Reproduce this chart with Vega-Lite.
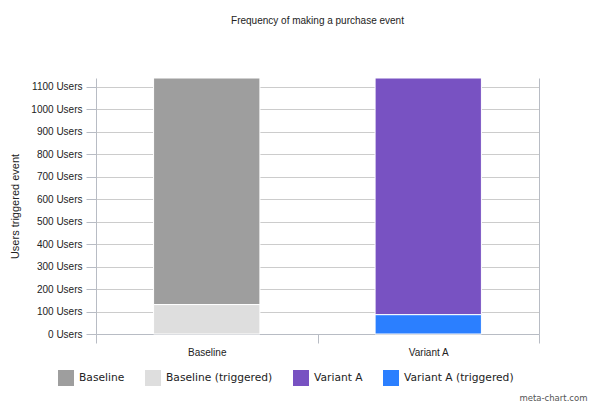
{
  "$schema": "https://vega.github.io/schema/vega-lite/v6.json",
  "width": 443,
  "height": 256,
  "padding": {"left": 9, "top": 15, "right": 5, "bottom": 0},
  "background": "white",
  "title": {
    "text": "Frequency of making a purchase event",
    "font": "Liberation Sans",
    "fontSize": 10,
    "fontWeight": "normal",
    "color": "#222222",
    "anchor": "middle",
    "offset": 52
  },
  "config": {
    "view": {"stroke": null},
    "axis": {"labelFont": "Liberation Sans", "titleFont": "Liberation Sans", "labelColor": "#222222", "titleColor": "#222222"}
  },
  "data": {
    "values": [
      {"group": "Baseline", "series": "Baseline", "users": 1009, "ord": 2},
      {"group": "Baseline", "series": "Baseline (triggered)", "users": 131, "ord": 1},
      {"group": "Variant A", "series": "Variant A", "users": 1054, "ord": 2},
      {"group": "Variant A", "series": "Variant A (triggered)", "users": 86, "ord": 1}
    ]
  },
  "layer": [
    {
      "mark": {"type": "bar", "stroke": "white", "strokeWidth": 1, "width": {"band": 0.48}},
      "encoding": {
        "x": {
          "field": "group",
          "type": "nominal",
          "sort": ["Baseline", "Variant A"],
          "scale": {"paddingInner": 0, "paddingOuter": 0},
          "axis": {
            "title": "meta-chart.com",
            "titleFont": "DejaVu Sans",
            "titleFontSize": 8.5,
            "titleFontWeight": "normal",
            "titleColor": "#555555",
            "titleAnchor": "end",
            "titleAlign": "right",
            "titleBaseline": "alphabetic",
            "titleX": 491,
            "titleY": 66,
            "labelAngle": 0,
            "labelFontSize": 10,
            "labelPadding": 4,
            "tickBand": "extent",
            "tickSize": 9,
            "tickColor": "#b8bcc4",
            "domainColor": "#b8bcc4",
            "grid": false
          }
        },
        "y": {
          "field": "users",
          "type": "quantitative",
          "stack": "zero",
          "scale": {"domain": [0, 1140], "nice": false},
          "axis": {
            "title": "Users triggered event",
            "titleFontSize": 11,
            "titleFontWeight": "normal",
            "titlePadding": 10,
            "values": [0, 100, 200, 300, 400, 500, 600, 700, 800, 900, 1000, 1100],
            "labelExpr": "datum.value + ' Users'",
            "labelFontSize": 10,
            "labelPadding": 4,
            "tickSize": 10,
            "tickColor": "#b8bcc4",
            "domainColor": "#b8bcc4",
            "gridColor": "#cccccc",
            "grid": true
          }
        },
        "color": {
          "field": "series",
          "type": "nominal",
          "scale": {
            "domain": ["Baseline", "Baseline (triggered)", "Variant A", "Variant A (triggered)"],
            "range": ["#9e9e9e", "#dedede", "#7852c2", "#2b7fff"]
          },
          "legend": {
            "title": null,
            "orient": "none",
            "legendX": -38,
            "legendY": 292,
            "direction": "horizontal",
            "symbolType": "square",
            "symbolSize": 256,
            "symbolStrokeWidth": 0,
            "labelFont": "DejaVu Sans",
            "labelFontSize": 10.7,
            "labelColor": "#222222",
            "labelOffset": 5,
            "columnPadding": 20
          }
        },
        "order": {"field": "ord", "type": "quantitative", "sort": "ascending"}
      }
    },
    {
      "mark": {"type": "bar", "opacity": 0},
      "encoding": {
        "x": {"field": "group", "type": "nominal", "sort": ["Baseline", "Variant A"]},
        "y": {
          "field": "users",
          "type": "quantitative",
          "axis": {
            "orient": "right",
            "title": null,
            "labels": false,
            "ticks": false,
            "grid": false,
            "domainColor": "#b8bcc4"
          }
        }
      }
    }
  ],
  "resolve": {"axis": {"y": "independent"}}
}
